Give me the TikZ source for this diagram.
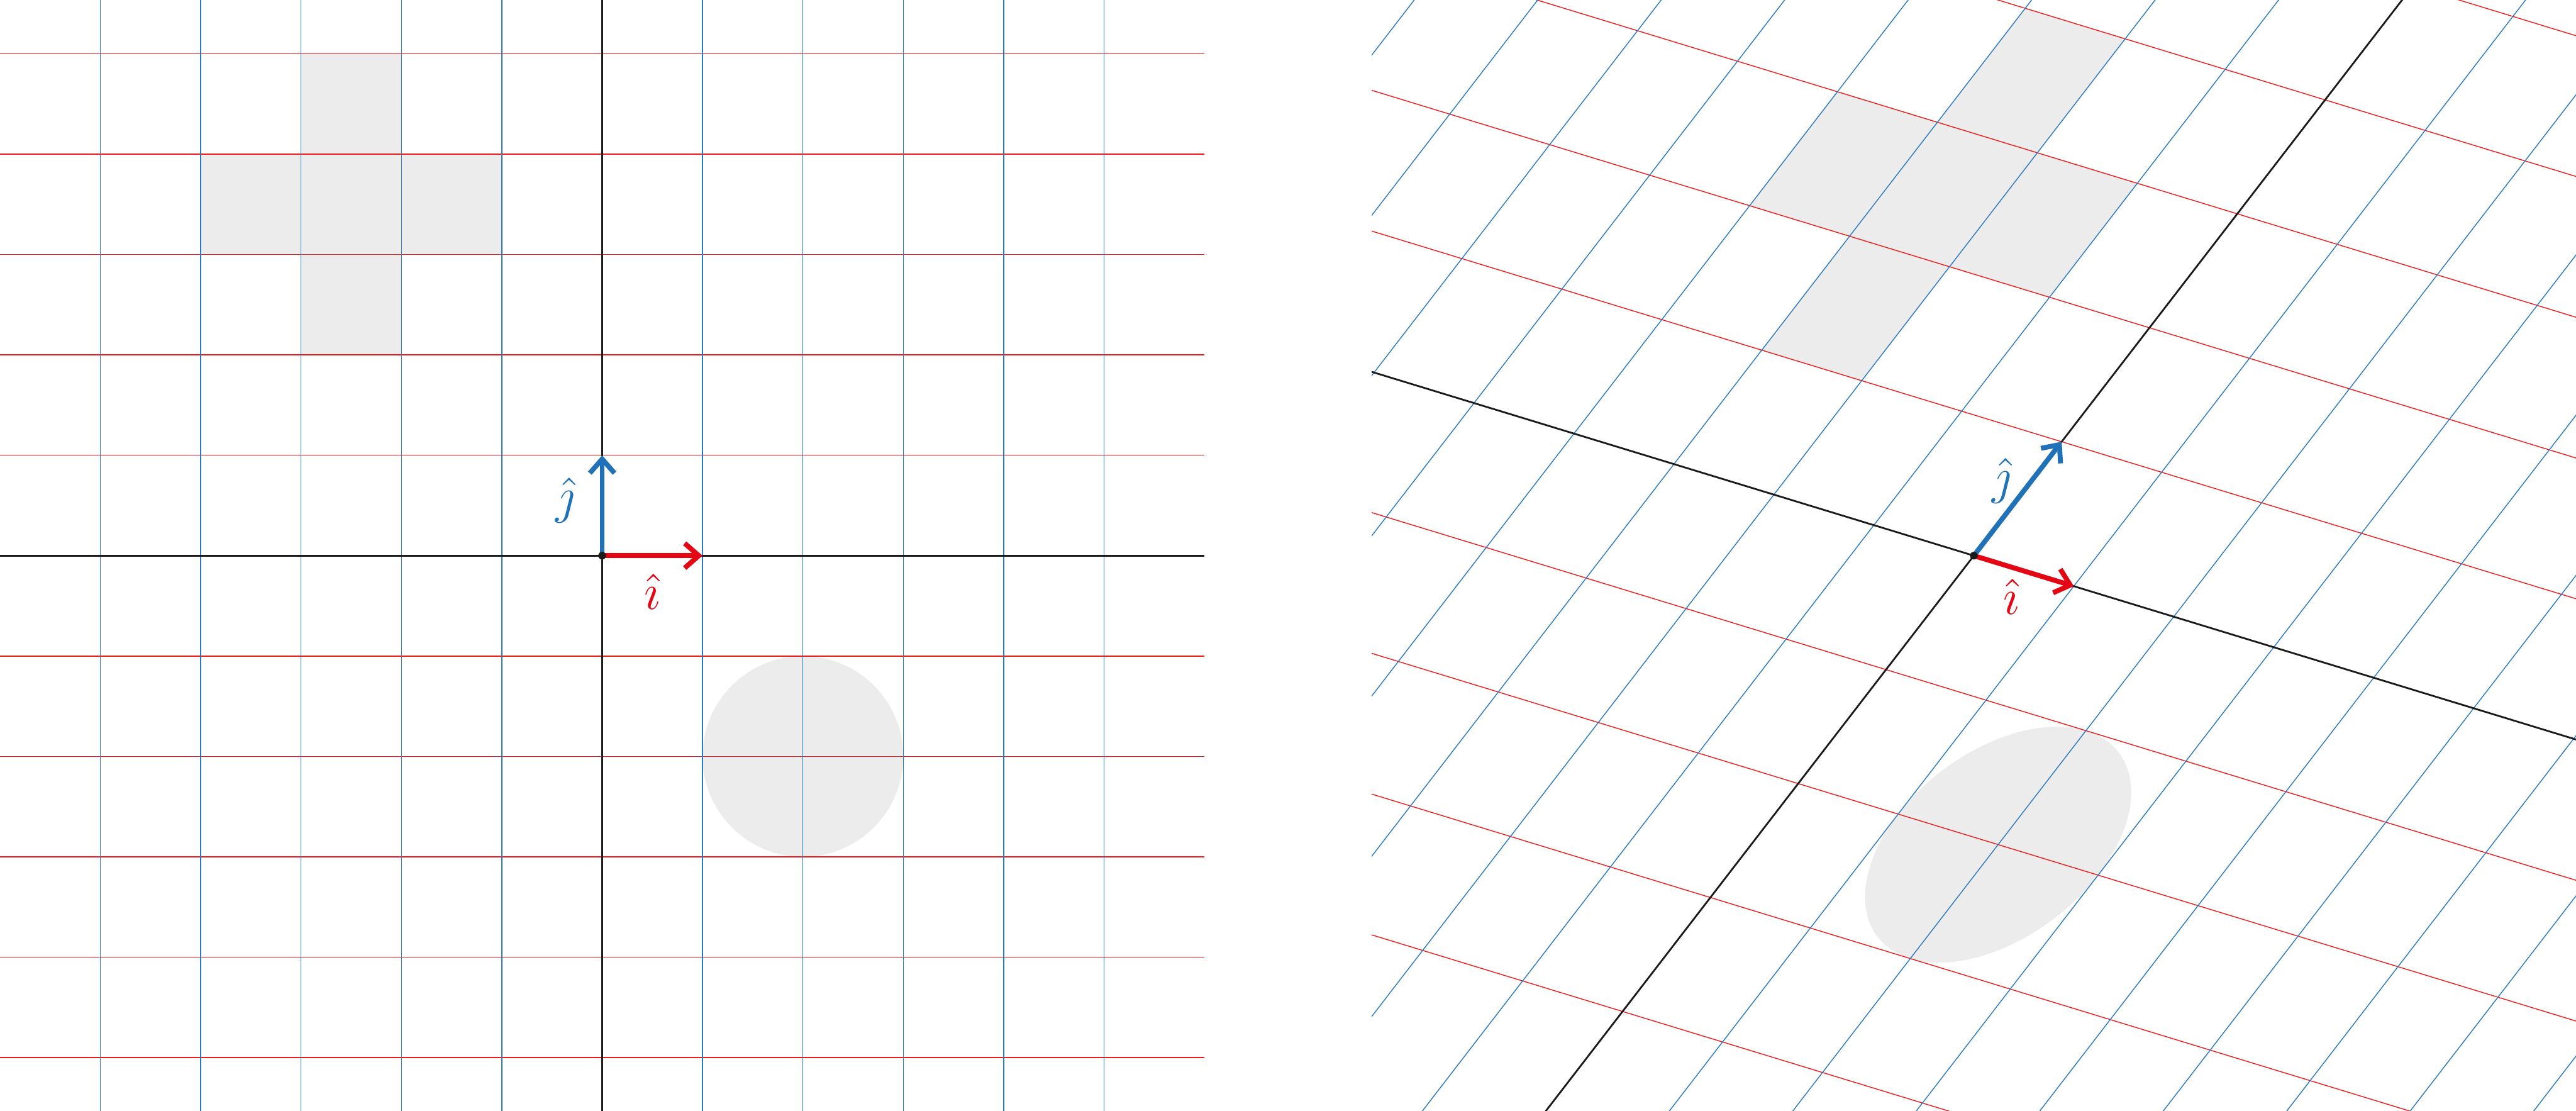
\documentclass[tikz,border=0pt]{standalone}
\usepackage{xcolor}
\usepackage{tikz}
\usetikzlibrary{arrows.meta}
\usepackage{amsmath}
\definecolor{gridred}{HTML}{F01A1A}
\definecolor{gridblue}{HTML}{2A78C0}
\definecolor{vecred}{HTML}{E30613}
\definecolor{vecblue}{HTML}{1F71B8}
\definecolor{axisblack}{HTML}{1A1A1A}
\definecolor{shapegray}{HTML}{ECECEC}
\tikzset{
  redline/.style={draw=gridred, line width=0.25pt},
  blueline/.style={draw=gridblue, line width=0.25pt},
  axisline/.style={draw=axisblack, line width=0.5pt},
  ivec/.style={draw=vecred, line width=1.4pt, -{Straight Barb[length=4pt,width=7pt]}},
  jvec/.style={draw=vecblue, line width=1.4pt, -{Straight Barb[length=4pt,width=7pt]}},
  shapefill/.style={fill=shapegray},
  veclabel/.style={font=\Large, inner sep=0pt}
}

\begin{document}
\begin{tikzpicture}[x=1cm,y=1cm]
  \path[use as bounding box] (-6,-5.53) rectangle (19.667,5.535);

  \begin{scope}
    \clip (-6,-5.53) rectangle (6,5.535);
    \fill[shapefill] (-4,3) rectangle (-1,4) (-3,2) rectangle (-2,5);
    \fill[shapefill] (2,-2) circle (1);
    \foreach \k in {-5,...,5} \draw[redline] (-6,\k) -- (6,\k);
    \foreach \k in {-5,...,5} \draw[blueline] (\k,-6) -- (\k,6);
    \draw[axisline] (-6,0) -- (6,0);
    \draw[axisline] (0,-6) -- (0,6);
    \coordinate (oA) at (0,0);
    \coordinate (iA) at (1,0);
    \coordinate (jA) at (0,1);
    \draw[ivec] (oA) -- (iA);
    \draw[jvec] (oA) -- (jA);
    \fill[axisblack] (oA) circle (1.1pt);
    \node[veclabel, text=vecred] (ilabA) at (0.5,-0.356) {$\hat{\imath}$};
    \node[veclabel, text=vecblue] (jlabA) at (-0.367,0.55) {$\hat{\jmath}$};
  \end{scope}

  \begin{scope}
    \clip (7.667,-5.53) rectangle (19.667,5.535);
    \begin{scope}[cm={0.996,-0.304,0.875,1.135,(13.667,0)}]
      \fill[shapefill] (-4,2) rectangle (-1,3) (-3,1) rectangle (-2,4);
      \fill[shapefill] (2,-2) circle (1);
      \foreach \k in {-4,...,5} \draw[redline] (-10,\k) -- (10,\k);
      \foreach \k in {-10,...,10} \draw[blueline] (\k,-7) -- (\k,7);
      \draw[axisline] (-10,0) -- (10,0);
      \draw[axisline] (0,-7) -- (0,7);
      \coordinate (oB) at (0,0);
      \coordinate (iB) at (1,0);
      \coordinate (jB) at (0,1);
      \draw[ivec] (oB) -- (iB);
      \draw[jvec] (oB) -- (jB);
      \node[veclabel, text=vecred] (ilabB) at (0.56,-0.21) {$\hat{\imath}$};
      \node[veclabel, text=vecblue] (jlabB) at (-0.24,0.59) {$\hat{\jmath}$};
    \end{scope}
    \fill[axisblack] (oB) circle (1.1pt);
  \end{scope}
\end{tikzpicture}
\end{document}
